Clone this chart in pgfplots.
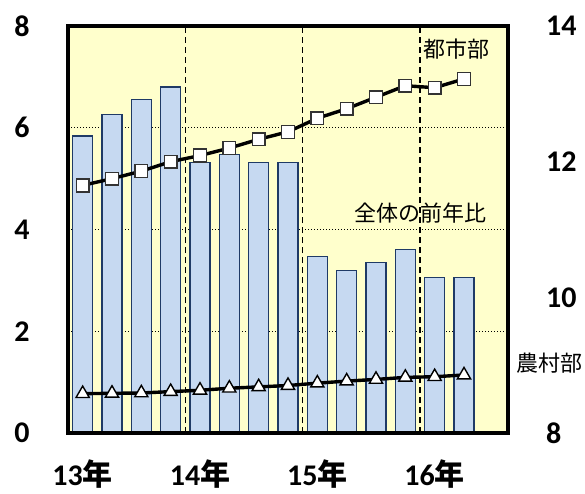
\documentclass[border=0pt]{standalone}
\usepackage{pgfplots}
\pgfplotsset{compat=1.18}
\usepackage{fontspec}
\setmainfont{Carlito}[BoldFont={Carlito Bold}]
\newfontfamily\jp{Noto Sans CJK JP}
\definecolor{plotbg}{HTML}{FFFFCC}
\definecolor{barfill}{HTML}{C6D9F1}
\definecolor{baredge}{HTML}{1F3A66}
\definecolor{mkedge}{HTML}{333333}

% overall year-on-year change (left axis)
\pgfplotstableread{
x y
0 5.84
1 6.26
2 6.55
3 6.80
4 5.32
5 5.48
6 5.32
7 5.32
8 3.47
9 3.19
10 3.35
11 3.61
12 3.06
13 3.06
}\totaltab

% urban (right axis)
\pgfplotstableread{
x y
0 11.65
1 11.75
2 11.86
3 12.00
4 12.09
5 12.20
6 12.33
7 12.44
8 12.64
9 12.78
10 12.95
11 13.12
12 13.09
13 13.22
}\urbantab

% rural (right axis)
\pgfplotstableread{
x y
0 8.58
1 8.585
2 8.59
3 8.61
4 8.63
5 8.66
6 8.68
7 8.70
8 8.735
9 8.765
10 8.79
11 8.82
12 8.83
13 8.855
}\ruraltab

\newcommand{\ticksize}{\bfseries\fontsize{30}{30}\selectfont}

\begin{document}
\begin{tikzpicture}[x=1pt,y=1pt]
\useasboundingbox (0,0) rectangle (585,493);
\pgfplotsset{
  every axis/.append style={
    scale only axis, width=440pt, height=407pt,
    at={(68pt,60pt)}, anchor=south west,
    xmin=-0.5, xmax=14.5,
    /pgf/number format/assume math mode=true,
    tick label style={font=\ticksize, inner sep=0pt},
    major tick length=0pt,
  },
}
\begin{axis}[
  axis background/.style={fill=plotbg},
  axis line style={black, line width=3pt},
  ymin=0, ymax=8, ytick={0,2,4,6,8},
  xtick={0,4,8,12},
  xticklabels={13{\jp\bfseries 年},14{\jp\bfseries 年},15{\jp\bfseries 年},16{\jp\bfseries 年}},
  xticklabel style={anchor=center, yshift=-41pt},
  yticklabel style={anchor=center, xshift=-46pt},
  ymajorgrids,
  grid style={black, line width=1pt, dotted},
  extra x ticks={3.5,7.5,11.5},
  extra x tick labels={},
  extra x tick style={grid=major, major grid style={black, line width=1.3pt, dash pattern=on 6pt off 4pt}},
  ytick pos=left, xtick pos=bottom,
]
  \addplot[ybar, bar width=0.68, fill=barfill, draw=baredge, line width=1.4pt]
    table[x=x,y=y] {\totaltab};
\end{axis}
\begin{axis}[
  axis lines=none,
  ymin=8, ymax=14, ytick={8,10,12,14},
  xtick=\empty,
  clip=false,
]
  \addplot[black, line width=3.4pt, mark=square*,
    mark options={fill=white, draw=mkedge, line width=1.4pt, scale=3.2}]
    table[x=x,y=y] {\urbantab};
  \addplot[black, line width=3.4pt, mark=triangle*,
    mark options={fill=white, draw=black, line width=1.4pt, scale=3.8}]
    table[x=x,y=y] {\ruraltab};
  % plot frame
  \draw[black, line width=3.6pt] (rel axis cs:0,0) rectangle (rel axis cs:1,1);
\end{axis}
% right-hand tick labels
\foreach \v/\yy in {8/60,10/195.7,12/331.3,14/467}{
  \node[anchor=west, inner sep=0pt, font=\ticksize] at (546,\yy) {\v};
}
\node[anchor=west, inner sep=0pt, font=\jp\fontsize{22}{22}\selectfont] at (423,444) {都市部};
\node[anchor=west, inner sep=0pt, font=\jp\fontsize{22}{22}\selectfont] at (354,280) {全体の前年比};
\node[anchor=west, inner sep=0pt, font=\jp\fontsize{22}{22}\selectfont] at (516,130) {農村部};
\end{tikzpicture}
\end{document}
